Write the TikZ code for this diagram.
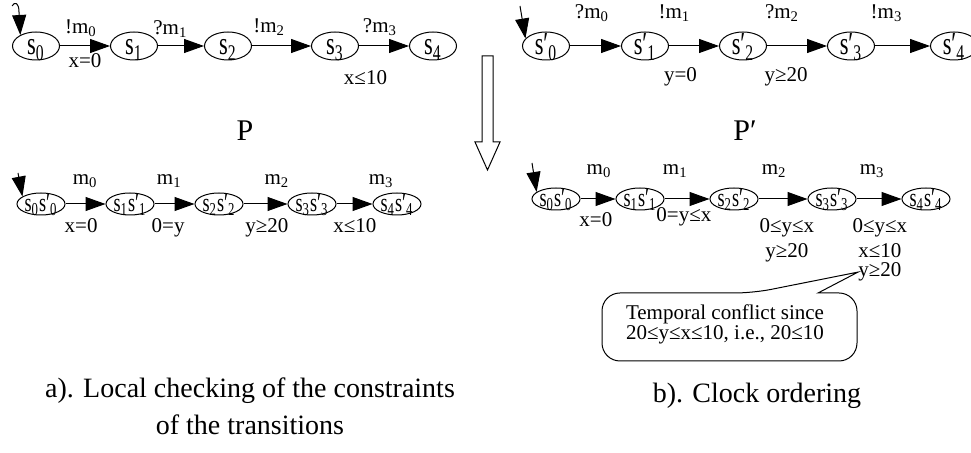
\documentclass[tikz,border=0pt]{standalone}
\usepackage{fontspec}
\setmainfont{Liberation Serif}
\newfontfamily\narrowserif{Liberation Serif}[FakeStretch=0.7]
\usepackage{tikz}
\usetikzlibrary{shapes.geometric, arrows.meta, positioning}
\newcommand{\lo}[1]{\textsubscript{#1}}
\tikzset{
  pstate/.style={ellipse, draw, line width=0.5pt, inner sep=0pt,
    minimum width=23.5pt, minimum height=14pt, text height=9pt, text depth=0pt,
    font=\narrowserif\fontsize{16}{18}\selectfont},
  prodstate/.style={ellipse, draw, line width=0.5pt, inner sep=0pt,
    minimum width=24pt, minimum height=11pt, text height=7.6pt, text depth=0pt,
    font=\narrowserif\fontsize{13}{15}\selectfont},
  trans/.style={-{Triangle[length=10pt, width=7pt]}, line width=0.5pt},
  lbl/.style={inner sep=0pt, font=\fontsize{10.5}{12}\selectfont},
  ptitle/.style={inner sep=0pt, font=\fontsize{15}{18}\selectfont},
  captext/.style={inner sep=0pt, align=center, font=\fontsize{14}{18.5}\selectfont}
}

\begin{document}
\begin{tikzpicture}[x=0.5pt, y=-0.5pt]
  \useasboundingbox (0,0) rectangle (971,453);

  % Process P
  \node[pstate] (s0) at (36,46) {s\lo{0}};
  \node[pstate] (s1) at (134,46) {s\lo{1}};
  \node[pstate] (s2) at (228,46) {s\lo{2}};
  \node[pstate] (s3) at (335,46) {s\lo{3}};
  \node[pstate] (s4) at (433,46) {s\lo{4}};
  \node[ptitle] (pname) at (245,131) {P};

  \coordinate (init0) at (12,6);
  \draw[trans] (init0) .. controls (15,1) and (19,3) .. (19,12) -- (s0.145);
  \draw[trans] (s0) -- node[lbl, above=4.5pt, pos=0.42] (a0) {!m\lo{0}}
    node[lbl, below=3.5pt, pos=0.5] (g0) {x=0} (s1);
  \draw[trans] (s1) -- node[lbl, above=4pt, pos=0.27] (a1) {?m\lo{1}} (s2);
  \draw[trans] (s2) -- node[lbl, above=5pt, pos=0.29] (a2) {!m\lo{2}} (s3);
  \draw[trans] (s3) -- node[lbl, above=5pt, pos=0.42] (a3) {?m\lo{3}}
    node[lbl, below=12pt, pos=0.13] (g3) {x≤10} (s4);

  % Process P'
  \node[pstate] (sp0) at (546,46) {s′\lo{0}};
  \node[pstate] (sp1) at (645,46) {s′\lo{1}};
  \node[pstate] (sp2) at (743,46) {s′\lo{2}};
  \node[pstate] (sp3) at (851,46) {s′\lo{3}};
  \node[pstate] (sp4) at (954,46) {s′\lo{4}};
  \node[ptitle] (pname2) at (745,131) {P′};

  \coordinate (init1) at (520,6);
  \draw[trans] (init1) -- (sp0.160);
  \draw[trans] (sp0) -- node[lbl, above=12pt, pos=0.43] (b0) {?m\lo{0}} (sp1);
  \draw[trans] (sp1) -- node[lbl, above=12pt, pos=0.11] (b1) {!m\lo{1}}
    node[lbl, below=10.5pt, pos=0.23] (h1) {y=0} (sp2);
  \draw[trans] (sp2) -- node[lbl, above=12pt, pos=0.25] (b2) {?m\lo{2}}
    node[lbl, below=10.5pt, pos=0.32] (h2) {y≥20} (sp3);
  \draw[trans] (sp3) -- node[lbl, above=12pt, pos=0.21] (b3) {!m\lo{3}} (sp4);

  % hollow arrow
  \draw[line width=0.5pt] (482,56) -- (482,142) -- (475,142) -- (487.5,170)
    -- (500,142) -- (493,142) -- (493,56) -- cycle;

  % a) local checking
  \node[prodstate] (ps0) at (41,204) {s\lo{0}s′\lo{0}};
  \node[prodstate] (ps1) at (130,204) {s\lo{1}s′\lo{1}};
  \node[prodstate] (ps2) at (219,204) {s\lo{2}s′\lo{2}};
  \node[prodstate] (ps3) at (312,204) {s\lo{3}s′\lo{3}};
  \node[prodstate] (ps4) at (397,204) {s\lo{4}s′\lo{4}};

  \coordinate (init2) at (18,173);
  \draw[trans] (init2) -- (ps0.158);
  \draw[trans] (ps0) -- node[lbl, above=8pt, pos=0.49] (m0) {m\lo{0}}
    node[lbl, below=7pt, pos=0.39] (k0) {x=0} (ps1);
  \draw[trans] (ps1) -- node[lbl, above=8pt, pos=0.37] (m1) {m\lo{1}}
    node[lbl, below=7pt, pos=0.34] (k1) {0=y} (ps2);
  \draw[trans] (ps2) -- node[lbl, above=8pt, pos=0.76] (m2) {m\lo{2}}
    node[lbl, below=7pt, pos=0.53] (k2) {y≥20} (ps3);
  \draw[trans] (ps3) -- node[lbl, above=8pt, pos=1.24] (m3) {m\lo{3}}
    node[lbl, below=7pt, pos=0.51] (k3) {x≤10} (ps4);

  % b) clock ordering
  \node[prodstate] (q0) at (556,199) {s\lo{0}s′\lo{0}};
  \node[prodstate] (q1) at (640,199) {s\lo{1}s′\lo{1}};
  \node[prodstate] (q2) at (734,199) {s\lo{2}s′\lo{2}};
  \node[prodstate] (q3) at (832,199) {s\lo{3}s′\lo{3}};
  \node[prodstate] (q4) at (926,199) {s\lo{4}s′\lo{4}};

  \coordinate (init3) at (532,163);
  \draw[trans] (init3) -- (q0.160);
  \draw[trans] (q0) -- node[lbl, above=10.5pt, pos=0.53] (n0) {m\lo{0}}
    node[lbl, below=6.5pt, pos=0.44] (cA0) {x=0} (q1);
  \draw[trans] (q1) -- node[lbl, above=10.5pt, pos=0.24] (n1) {m\lo{1}}
    node[lbl, below=4pt, pos=0.43] (cA1) {0=y≤x} (q2);
  \draw[trans] (q2) -- node[lbl, above=10.5pt, pos=0.32] (n2) {m\lo{2}}
    node[lbl, below=9.5pt, pos=0.58] (cA2) {0≤y≤x} (q3);
  \draw[trans] (q3) -- node[lbl, above=10.5pt, pos=0.35] (n3) {m\lo{3}}
    node[lbl, below=9.5pt, pos=0.52] (cA3) {0≤y≤x} (q4);
  \node[lbl, below=3pt of cA2] (cB2) {y≥20};
  \node[lbl, below=3pt of cA3] (cB3) {x≤10};
  \node[lbl, below=2pt of cB3] (cC3) {y≥20};

  % conflict note
  \node[lbl, align=center, font=\fontsize{10.5}{10}\selectfont] (note) at (725,324)
    {Temporal conflict since\\20≤y≤x≤10, i.e., 20≤10};
  \draw[line width=0.5pt, rounded corners=9pt] (818,293) -- (857,293) -- (857,361)
    -- (602,361) -- (602,293) -- (753,293) [sharp corners] -- (cC3.west) -- cycle;

  % captions
  \node[captext] (capa) at (250,406) {a). Local checking of the constraints\\of the transitions};
  \node[captext] (capb) at (757,396) {b). Clock ordering};
\end{tikzpicture}
\end{document}
